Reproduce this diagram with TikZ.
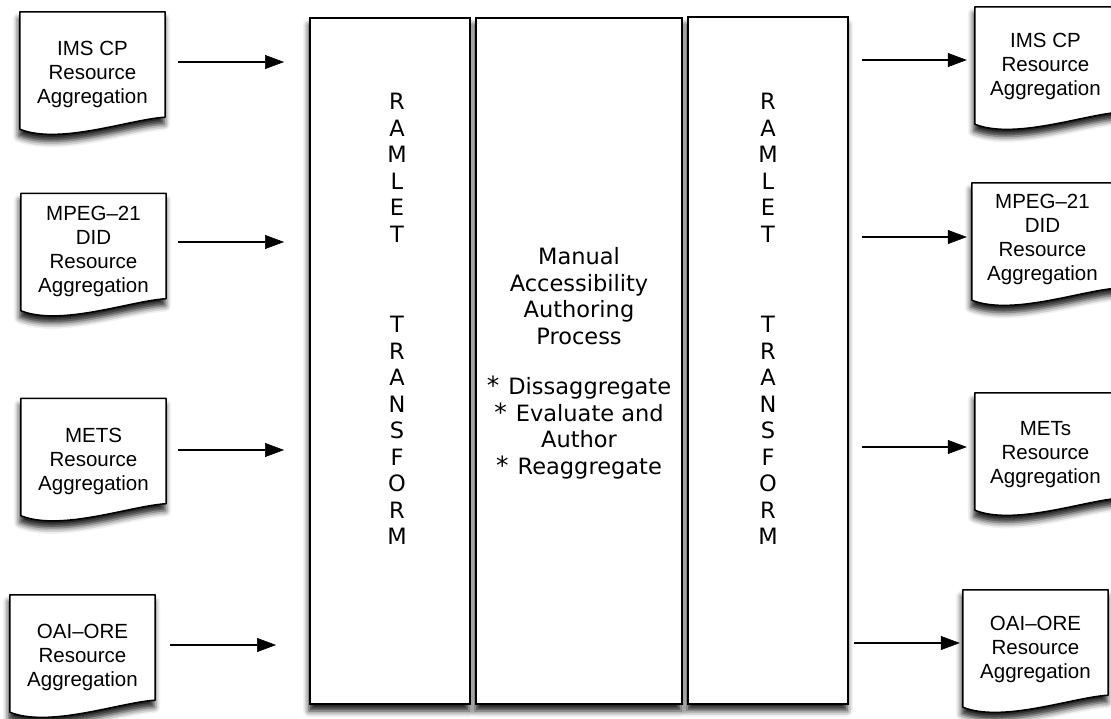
\documentclass[tikz,border=0pt]{standalone}
\usepackage{fontspec}
\setmainfont{Liberation Sans}
\newfontfamily\verd{DejaVu Sans}
\usetikzlibrary{arrows.meta,shadows.blur}

\tikzset{
  softshadow/.style={blur shadow={shadow xshift=-1pt, shadow yshift=-7pt,
      shadow blur radius=6pt, shadow opacity=90}},
  stage/.style={rectangle, draw=black, line width=2pt, fill=white,
      softshadow, minimum height=686pt, inner sep=0pt},
  docgeo/.style={rectangle, minimum width=145pt, minimum height=105pt,
      inner sep=0pt},
  docline/.style={draw=black, line width=1.5pt, fill=white,
      line join=round, softshadow},
  doctext/.style={align=center, font=\fontsize{20.5}{24}\selectfont,
      inner sep=0pt},
  boxtext/.style={align=center, font=\verd\fontsize{22.5}{26.5}\selectfont,
      inner sep=0pt},
  arr/.style={draw=black, line width=1.7pt,
      -{Triangle[length=19pt,width=14pt,fill=black,line width=0.5pt]}},
}

% paper sheet with a wavy lower edge, drawn over a placeholder node
\newcommand\docshape[1]{%
  \path[docline] (#1.north west) -- (#1.north east) -- (#1.south east)
    .. controls ([xshift=-35pt,yshift=-2pt]#1.south east)
            and ([xshift=40pt,yshift=-28pt]#1.south west)
    .. ([yshift=-12pt]#1.south west) -- cycle;}
\newcommand\bul{{\fontsize{25}{26.7}\selectfont*}\hspace{0.4em}}

\begin{document}
\begin{tikzpicture}[x=1pt,y=-1pt]
\useasboundingbox (0,0) rectangle (1111,719);

% the three processing stages
\node[stage, minimum width=160pt] (ramA) at (390,361) {};
\node[stage, minimum width=206pt] (manual) at (579,361) {};
\node[stage, minimum width=160pt] (ramB) at (768,360.5) {};

\node[boxtext] (ramAtxt) at (397,319)
  {R\\A\\M\\L\\E\\T\\[64.4pt]T\\R\\A\\N\\S\\F\\O\\R\\M};
\node[boxtext] (ramBtxt) at (768,319)
  {R\\A\\M\\L\\E\\T\\[64.4pt]T\\R\\A\\N\\S\\F\\O\\R\\M};
\node[boxtext, font=\verd\fontsize{22.5}{26.7}\selectfont] (manualtxt) at (579,363.3)
  {Manual\\Accessibility\\Authoring\\Process\\[23.3pt]
   \bul Dissaggregate\\\bul Evaluate and\\Author\\\bul Reaggregate};

% input aggregations
\node[docgeo] (l1) at (92.5,64.5) {};
\docshape{l1}
\node[doctext] (l1t) at (92.5,74) {IMS CP\\Resource\\Aggregation};

\node[docgeo] (l2) at (93.5,246) {};
\docshape{l2}
\node[doctext] (l2t) at (93.5,251.5) {MPEG–21\\DID\\Resource\\Aggregation};

\node[docgeo] (l3) at (93.5,451) {};
\docshape{l3}
\node[doctext] (l3t) at (93.5,461) {METS\\Resource\\Aggregation};

\node[docgeo] (l4) at (82.5,647.5) {};
\docshape{l4}
\node[doctext] (l4t) at (82.5,657) {OAI–ORE\\Resource\\Aggregation};

% output aggregations
\node[docgeo] (r1) at (1047.5,59.5) {};
\docshape{r1}
\node[doctext] (r1t) at (1045.5,66) {IMS CP\\Resource\\Aggregation};

\node[docgeo] (r2) at (1044.5,235.5) {};
\docshape{r2}
\node[doctext] (r2t) at (1042.5,239) {MPEG–21\\DID\\Resource\\Aggregation};

\node[docgeo] (r3) at (1047.5,445.5) {};
\docshape{r3}
\node[doctext] (r3t) at (1045.5,455) {METs\\Resource\\Aggregation};

\node[docgeo] (r4) at (1035.5,642.5) {};
\docshape{r4}
\node[doctext] (r4t) at (1035.5,649) {OAI–ORE\\Resource\\Aggregation};

% arrow rows
\coordinate (ya1) at (0,62);
\coordinate (ya2) at (0,242);
\coordinate (ya3) at (0,450);
\coordinate (ya4) at (0,645);
\coordinate (yb1) at (0,60);
\coordinate (yb2) at (0,237);
\coordinate (yb3) at (0,447);
\coordinate (yb4) at (0,643);

\draw[arr, shorten <=13pt, shorten >=25pt] (l1.east |- ya1) -- (ramA.west |- ya1);
\draw[arr, shorten <=12pt, shorten >=25pt] (l2.east |- ya2) -- (ramA.west |- ya2);
\draw[arr, shorten <=12pt, shorten >=25pt] (l3.east |- ya3) -- (ramA.west |- ya3);
\draw[arr, shorten <=15pt, shorten >=33pt] (l4.east |- ya4) -- (ramA.west |- ya4);

\draw[arr, shorten <=13pt, shorten >=8pt] (ramB.east |- yb1) -- (r1.west |- yb1);
\draw[arr, shorten <=13pt, shorten >=5pt] (ramB.east |- yb2) -- (r2.west |- yb2);
\draw[arr, shorten <=13pt, shorten >=8pt] (ramB.east |- yb3) -- (r3.west |- yb3);
\draw[arr, shorten <=5pt, shorten >=3pt] (ramB.east |- yb4) -- (r4.west |- yb4);
\end{tikzpicture}
\end{document}
